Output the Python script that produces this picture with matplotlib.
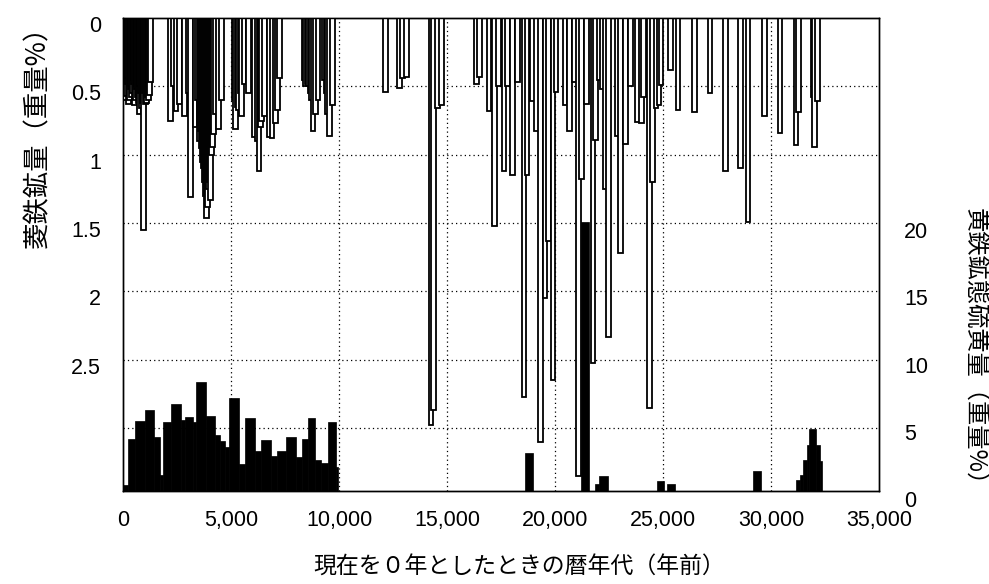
import numpy as np
import matplotlib.pyplot as plt
from matplotlib.transforms import ScaledTranslation

plt.rcParams['font.family'] = ['Liberation Sans', 'Noto Sans CJK JP', 'DejaVu Sans']

# siderite (hanging white bars): age in years BP, amount in wt%
sid_age = [20, 40, 75, 110, 145, 180, 215, 250, 285, 320, 355, 390, 425, 460,
           495, 530, 565, 600, 635, 670, 705, 740, 775, 810, 845, 880, 920,
           960, 1000, 1040, 1075, 1110, 1150, 1190, 1230, 1280,
           2200, 2320, 2450, 2600, 2850, 3000, 3120, 3330, 3450, 3520, 3580,
           3620, 3680, 3720, 3760, 3810, 3860, 3900, 3940, 4000, 4060, 4100,
           4150, 4200, 4250, 4420, 4550,
           5150, 5220, 5290, 5350, 5420, 5480, 5600, 5800, 6070, 6200, 6300,
           6360, 6420, 6550, 6750, 6900, 7050, 7150, 7250,
           8400, 8460, 8520, 8580, 8650, 8720, 8800, 8900, 9020, 9300, 9400,
           9470, 9550, 9700,
           12150, 12800, 12950, 13120,
           14250, 14380, 14550, 14750,
           16350, 16500, 16950, 17200, 17380, 17630, 17800, 18030, 18250,
           18570, 18700, 18950, 19130, 19330, 19530, 19700, 19900, 20050,
           20460, 20680, 20900, 21080, 21230, 21450, 21750, 21880, 22050,
           22200, 22350, 22480, 22880, 23020, 23270, 23500, 23820,
           24000, 24100, 24360, 24520, 24680, 24820, 24900, 25350, 25700,
           26450, 27180, 27900, 28600, 28930, 29700, 30420, 31150, 31280,
           31950, 32000, 32150]
sid_val = [0.45, 0.55, 0.50, 0.60, 0.57, 0.48, 0.44, 0.63, 0.60, 0.52, 0.50, 0.58, 0.55, 0.45,
           0.48, 0.64, 0.60, 0.50, 0.52, 0.58, 0.62, 0.70, 0.50, 0.55, 0.66, 0.62, 0.60,
           1.55, 0.55, 0.63, 0.62, 0.58, 0.50, 0.60, 0.56, 0.47,
           0.75, 0.50, 0.68, 0.63, 0.72, 0.55, 1.31, 0.80, 0.60, 0.90, 0.83,
           0.95, 1.05, 1.10, 1.20, 1.30, 1.46, 1.38, 1.25, 1.20, 1.33, 1.00,
           0.94, 0.85, 0.70, 0.81, 0.60,
           0.60, 0.81, 0.65, 0.67, 0.55, 0.72, 0.48, 0.55, 0.87, 0.90, 1.12,
           0.80, 0.75, 0.72, 0.87, 0.88, 0.77, 0.67, 0.44,
           0.45, 0.50, 0.48, 0.50, 0.55, 0.60, 0.83, 0.70, 0.60, 0.45, 0.55,
           0.70, 0.86, 0.64,
           0.54, 0.51, 0.44, 0.43,
           2.98, 2.87, 0.66, 0.64,
           0.48, 0.43, 0.68, 1.52, 0.50, 1.12, 0.50, 1.15, 0.47,
           2.77, 1.15, 0.61, 0.83, 3.10, 2.05, 1.63, 2.65, 0.54,
           0.64, 0.83, 0.47, 3.35, 1.18, 0.63, 2.52, 0.89, 0.45,
           0.52, 1.25, 2.33, 0.86, 1.72, 0.92, 0.50, 0.76,
           0.77, 0.58, 2.85, 1.20, 0.66, 0.64, 0.49, 0.38, 0.67,
           0.69, 0.55, 1.12, 1.10, 1.49, 0.72, 0.84, 0.93, 0.69,
           0.58, 0.94, 0.61]

# pyrite sulphur (black bars from the bottom): interval edges and wt%
pyr_left = [0, 230, 570, 1000, 1435, 1700, 1850, 2240, 2700, 2860, 3240, 3400,
            3860, 4240, 4475, 4710, 4890, 5355, 5630, 6100, 6375, 6840, 7145,
            7560, 8020, 8290, 8565, 8875, 9180, 9490, 9875,
            18610, 21200, 21850, 22050, 24700, 25170, 29150,
            31140, 31340, 31500, 31650, 31770, 32080, 32270]
pyr_right = [230, 570, 1000, 1435, 1700, 1850, 2240, 2700, 2860, 3240, 3400,
             3860, 4240, 4475, 4710, 4890, 5355, 5630, 6100, 6375, 6840, 7145,
             7560, 8020, 8290, 8565, 8875, 9180, 9490, 9875, 9950,
             18980, 21590, 22050, 22450, 25060, 25560, 29540,
             31340, 31500, 31650, 31770, 32080, 32270, 32380]
pyr_val = [0.45, 3.9, 5.2, 6.0, 4.0, 1.2, 5.1, 6.5, 5.3, 5.5, 5.1, 8.1,
           5.6, 4.2, 3.7, 3.3, 6.9, 2.0, 5.4, 3.0, 3.8, 2.6, 3.0,
           4.0, 2.5, 3.9, 5.4, 2.3, 2.1, 5.1, 1.8,
           2.85, 20.0, 0.5, 1.1, 0.75, 0.5, 1.5,
           0.8, 1.2, 2.3, 3.4, 4.6, 3.4, 2.2]

x_ticks = [0, 5000, 10000, 15000, 20000, 25000, 30000, 35000]
left_ticks = [0, 0.5, 1, 1.5, 2, 2.5]
right_ticks = [0, 5, 10, 15, 20]

fig = plt.figure(figsize=(9.89, 5.84), dpi=100)
ax = fig.add_axes([0.1244, 0.1592, 0.7644, 0.81])

ax.bar(sid_age, sid_val, width=215, color='white', edgecolor='black',
       linewidth=1.3, zorder=3)
ax.set_xlim(0, 35000)
ax.set_ylim(3.46, 0)

# dotted grid
for gx in x_ticks[1:-1]:
    ax.axvline(gx, color='black', linestyle=(0, (1, 2.5)), linewidth=0.9, zorder=1)
for gy in [0.5, 1, 1.5, 2, 2.5, 3]:
    ax.axhline(gy, color='black', linestyle=(0, (1, 2.5)), linewidth=0.9, zorder=1)

ax.set_xticks(x_ticks)
ax.set_xticklabels(['{:,}'.format(v) for v in x_ticks])
ax.set_yticks(left_ticks)
ax.set_yticklabels(['0', '0.5', '1', '1.5', '2', '2.5'])
ax.tick_params(axis='both', length=0, labelsize=15.5)
ax.tick_params(axis='x', pad=14)
ax.tick_params(axis='y', pad=16)

ax2 = ax.twinx()
pyr_w = np.array(pyr_right) - np.array(pyr_left)
ax2.bar(pyr_left, pyr_val, width=pyr_w, align='edge', color='black',
        edgecolor='black', linewidth=0.5, zorder=4)
ax2.set_ylim(0, 35.2)
ax2.set_yticks(right_ticks)
ax2.tick_params(axis='y', length=0, labelsize=15.5, pad=18)

# the y tick labels sit a little low in the original
shift_l = ScaledTranslation(0, -6 / 100, fig.dpi_scale_trans)
shift_r = ScaledTranslation(0, -8 / 100, fig.dpi_scale_trans)
for lbl in ax.get_yticklabels():
    lbl.set_transform(lbl.get_transform() + shift_l)
for lbl in ax2.get_yticklabels():
    lbl.set_transform(lbl.get_transform() + shift_r)

for a in (ax, ax2):
    for s in a.spines.values():
        s.set_linewidth(1.0)
        s.set_color('black')

cjk = ['Noto Sans CJK JP', 'DejaVu Sans']
fig.text(0.038, 0.776, '菱鉄鉱量（重量%）', rotation=90, ha='center', va='center',
         fontsize=19, family=cjk)
fig.text(0.985, 0.397, '黄鉄鉱態硫黄量（重量%）', rotation=270, ha='center', va='center',
         fontsize=17.5, family=cjk)
fig.text(0.525, 0.028, '現在を０年としたときの暦年代（年前）', ha='center', va='center',
         fontsize=16.5, family=cjk)

plt.savefig('out.png', dpi=100)
plt.close()
